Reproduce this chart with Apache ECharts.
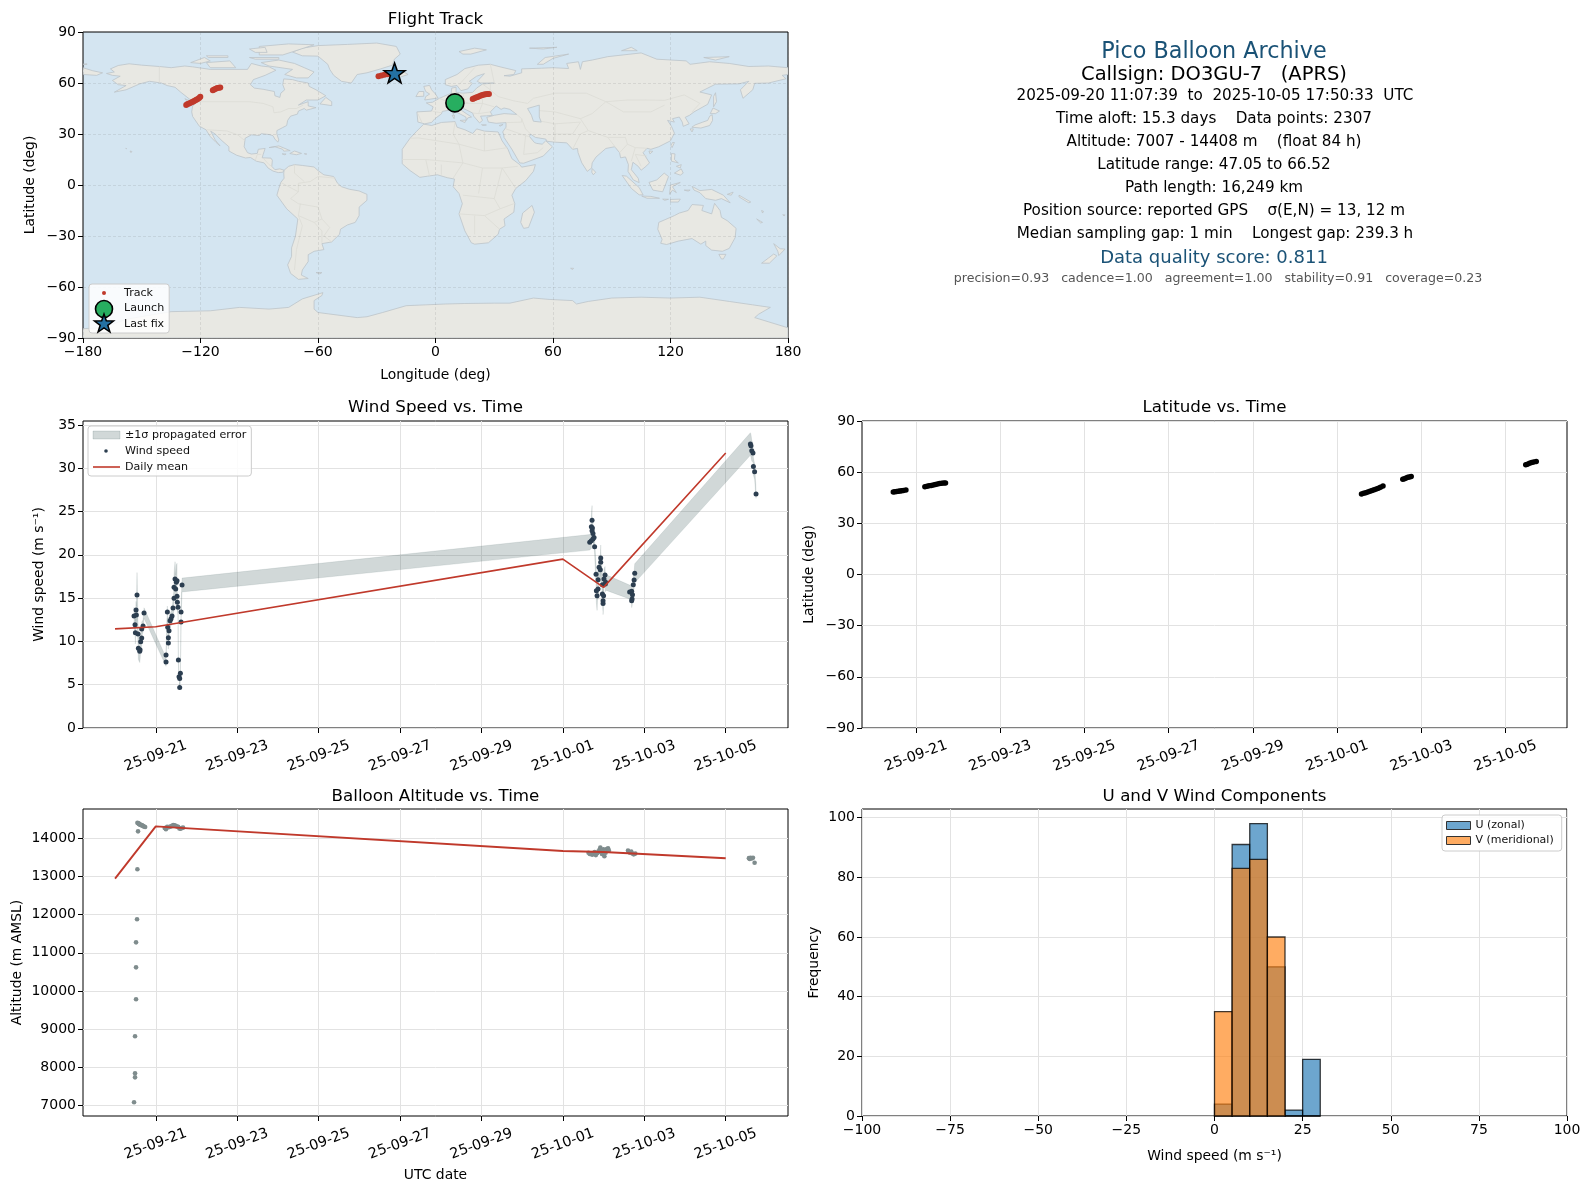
<!DOCTYPE html>
<html><head><meta charset="utf-8">
<style>html,body{margin:0;padding:0;background:#fff}#c{width:1589px;height:1189px}</style>
<script src="https://cdn.jsdelivr.net/npm/echarts@6/dist/echarts.min.js"></script>
</head><body><div id="c"></div>
<script>
const FONT='"DejaVu Sans"';
// ---------- data ----------
const infoLines=[
 ["Pico Balloon Archive",52.5,22.3,"#1a5276",1214],
 ["Callsign: DO3GU-7   (APRS)",74.5,19.5,"#000",1214],
 ["2025-09-20 11:07:39  to  2025-10-05 17:50:33  UTC",96,15.2,"#000",1215],
 ["Time aloft: 15.3 days    Data points: 2307",119,15.2,"#000",1214],
 ["Altitude: 7007 - 14408 m    (float 84 h)",142,15.2,"#000",1214],
 ["Latitude range: 47.05 to 66.52",165,15.2,"#000",1214],
 ["Path length: 16,249 km",188,15.2,"#000",1214],
 ["Position source: reported GPS    σ(E,N) = 13, 12 m",211.5,15.2,"#000",1214],
 ["Median sampling gap: 1 min    Longest gap: 239.3 h",234.5,15.2,"#000",1215],
 ["Data quality score: 0.811",258.5,18,"#1a5276",1214],
 ["precision=0.93   cadence=1.00   agreement=1.00   stability=0.91   coverage=0.23",279,12.6,"#555",1218]
];
const dateTicks=[0,2,4,6,8,10,12,14];
const dateLabels=["25-09-21","25-09-23","25-09-25","25-09-27","25-09-29","25-10-01","25-10-03","25-10-05"];

const trackLon=[10,10.6,11.2,11.8,12.3,12.8,13.2,19,19.8,20.7,21.5,22.3,23.2,24,24.8,25.6,26.5,27.3,-127.3,-126.6,-125.8,-125,-124.2,-123.5,-122.8,-122.1,-121.4,-120.7,-120.1,-113.7,-113,-112.2,-111.4,-110.6,-109.9,-29.1,-27.6,-26.1,-24.6,-23,-20.9];
const trackLat=[48.3,48.5,48.6,48.8,49,49.3,49.6,50.6,51,51.4,51.8,52.2,52.6,53,53.2,53.4,53.5,53.6,47.1,47.6,48,48.4,48.8,49.2,49.7,50.1,50.6,51.2,51.9,55.8,56.2,56.6,57,57.2,57.4,64,64.4,64.8,65.2,65.6,65.9];
const launchPoint=[9.9,48.3];
const lastFixPoint=[-20.9,65.9];

const windT=[-0.534,-0.509,-0.5,-0.484,-0.476,-0.46,-0.435,-0.427,-0.394,-0.386,-0.37,-0.345,-0.345,-0.312,-0.288,
 0.253,0.253,0.285,0.294,0.31,0.31,0.326,0.351,0.375,0.4,0.424,0.449,0.449,0.474,0.49,0.506,0.523,0.523,0.531,0.547,0.556,0.572,0.588,0.588,0.605,0.621,0.621,0.646,
 10.66,10.7,10.7,10.717,10.717,10.725,10.74,10.74,10.766,10.78,10.815,10.823,10.84,10.864,10.864,10.889,10.92,10.93,10.93,10.97,10.97,10.987,10.987,11.0,11.01,11.036,11.044,11.05,
 11.64,11.69,11.69,11.7,11.71,11.73,11.75,11.765,
 14.606,14.62,14.64,14.67,14.68,14.71,14.745];
const windV=[12.93,11.93,11,13.62,13.05,15.35,10.85,9.2,8.85,9.04,9.97,10.39,11.43,11.77,13.28,
 7.62,8.43,13.39,11.62,9.81,10.43,11.24,12.39,12.62,12.93,13.85,14.97,16.24,17.2,16.05,16.82,17.01,15.2,14.51,13.93,7.85,5.92,5.73,4.69,6.31,12.24,13.39,16.51,
 21.44,21.63,23.24,23.98,22.78,23.09,22.47,21.82,22.01,20.94,17.74,15.85,15.28,17.12,16.05,18.55,18.28,19.63,19.13,16.55,15.47,14.7,14.39,15.28,17.2,17.66,16.62,16.82,
 15.7,15.78,14.7,14.89,15.39,16.55,17.09,17.86,
 32.79,32.6,32.02,31.75,30.21,29.6,27.02];
const windSigma=[1,1,1.3,1,1,2.6,1.4,1.3,1.3,1.2,1,0.9,0.8,0.7,0.6,
 0.5,0.5,0.7,0.7,0.7,0.7,0.7,0.8,0.8,0.9,1,1.2,1.6,2,1.6,2,2,1.2,1,0.9,0.5,0.4,0.4,0.3,0.4,0.7,0.8,0.8,
 0.9,0.9,1.2,1.7,1.2,1.2,1,1,1,0.9,1.1,1.4,1.7,1.2,1.2,1.4,1.4,1.5,1.5,1.2,1.2,1.3,1.3,1.2,1.1,1,0.9,0.9,
 0.8,0.8,0.8,0.8,0.8,0.9,1,1.1,
 1.3,1.3,1.2,1.1,1,0.9,0.5];
const meanT=[-1,0,10,11,14];
const windMean=[11.45,11.7,19.5,16.24,31.75];

const latT=[-0.54,-0.5,-0.46,-0.42,-0.38,-0.34,-0.3,-0.24,0.21,0.26,0.31,0.36,0.41,0.46,0.51,0.56,0.61,0.66,0.7,10.58,10.63,10.68,10.73,10.78,10.83,10.88,10.93,10.98,11.03,11.09,11.56,11.6,11.64,11.68,11.72,11.76,14.48,14.52,14.57,14.62,14.67,14.73];
const latV=[48.3,48.5,48.6,48.8,49,49.1,49.3,49.6,51.4,51.7,52,52.2,52.5,52.8,53,53.3,53.5,53.6,53.7,47.2,47.6,48,48.4,48.8,49.2,49.7,50.1,50.6,51.2,51.9,55.8,56.2,56.6,57,57.2,57.4,64.3,64.7,65.2,65.6,65.9,66.3];

const altT=[-0.533,-0.509,-0.509,-0.509,-0.484,-0.484,-0.484,-0.46,-0.451,-0.435,-0.45,-0.43,-0.42,-0.41,-0.4,-0.39,-0.375,-0.36,-0.345,-0.33,-0.31,-0.29,-0.26,
 0.22,0.25,0.28,0.31,0.34,0.37,0.4,0.43,0.46,0.49,0.52,0.55,0.58,0.61,0.64,0.67,
 10.63,10.66,10.69,10.72,10.75,10.78,10.81,10.84,10.87,10.9,10.93,10.96,10.99,11.02,11.05,11.08,11.11,11.13,11.0,10.92,
 11.6,11.62,11.65,11.68,11.71,11.74,11.78,
 14.57,14.59,14.61,14.64,14.67,14.71];
const altV=[7085,7738,7843,8813,9782,10620,11275,11878,13188,14183,14405,14395,14385,14380,14370,14360,14350,14350,14345,14335,14320,14310,14295,
 14270,14240,14300,14290,14300,14310,14330,14350,14340,14330,14310,14300,14260,14250,14270,14280,
 13620,13590,13610,13570,13600,13640,13560,13610,13650,13700,13640,13590,13660,13530,13620,13720,13740,13680,13710,13760,
 13680,13640,13620,13650,13600,13580,13600,
 13480,13460,13490,13470,13490,13360];
const altMean=[12942,14314,13667,13640,13476];

const binEdges=[0,5,10,15,20,25,30];
const uCounts=[4,91,98,50,2,19];
const vCounts=[35,83,86,60,0,0];

// coarse land outlines, [lon,lat]
const northAmerica=[[-168,65.6],[-164,66.5],[-166,68.3],[-162,70.3],[-156.5,71.3],[-150,70.5],[-141,69.7],[-135,69],[-128,70],[-124,69.5],[-115,68],[-108,68],[-96,68],[-94,71.5],[-89,70],[-85,69.5],[-81.5,67.5],[-87,64.5],[-93,62],[-94.5,59],[-92.5,57],[-88,56.3],[-82.3,55],[-82,52.5],[-79.5,51.5],[-79,54],[-77,56],[-78,59],[-77.5,62.4],[-73,62],[-70,61],[-65,60],[-64.5,58],[-61,56],[-56,52.5],[-60,50],[-66,50],[-70,47],[-65,49],[-65,46.5],[-61,45.5],[-66,44],[-67,45],[-70,43.5],[-70.5,41.7],[-74,40.5],[-75.5,38],[-76,35],[-78,33.8],[-81,32],[-81,30],[-80,26.5],[-80.5,25.2],[-82,27],[-83,29],[-85,29.7],[-89,30.2],[-90,29.1],[-94,29.5],[-97.2,27.5],[-97.7,22.5],[-96,19],[-94,18.2],[-91,18.6],[-90.5,21],[-87,21.5],[-88,18],[-88.5,16],[-84,15.8],[-83.3,14.5],[-83.6,11],[-82,9],[-79.5,9.5],[-77.3,8.7],[-78,7.5],[-80.3,7.3],[-83,8.2],[-85.5,10],[-87.5,13],[-91.5,14],[-94.5,16.2],[-97,15.9],[-101.5,17.5],[-105.5,20],[-105.5,22.5],[-109,26],[-112.5,30],[-114.8,31.7],[-112.5,26.5],[-110,23],[-112,25],[-115,28.5],[-117.2,32.5],[-120.6,34.6],[-124,40.3],[-124.5,43],[-124,46.5],[-122.5,48],[-125,50],[-130,54.5],[-133,57.5],[-137,58.5],[-140,60],[-146,61],[-151,59.5],[-153,58.5],[-158,56],[-164,54.6],[-158,58.5],[-162,59],[-165,61.5],[-161,64],[-165,64.5]];
const greenland=[[-73,78.2],[-68,80.5],[-60,82],[-45,82.7],[-30,83.5],[-20,81.5],[-18,77],[-21,74],[-22,70.5],[-28,68.3],[-35,66],[-40,65],[-43,60],[-48,61],[-52,64.5],[-54,68],[-55,71],[-60,75.8],[-68,76]];
const southAmerica=[[-77.3,8.7],[-75,11],[-72,12],[-68,11.5],[-62,10.6],[-60,8.5],[-57,6],[-52,5],[-50,1],[-48,-1],[-44,-2.5],[-39,-3.5],[-35,-5.5],[-35,-9],[-39,-13],[-39,-18],[-41,-22],[-45,-23.5],[-48.5,-26],[-49,-29],[-53,-33.5],[-58,-34.5],[-57,-38],[-62,-39],[-65,-41],[-65,-45],[-68,-50],[-68.5,-53],[-65,-55],[-70,-55.5],[-74,-52],[-75.5,-47],[-73.5,-42],[-73.5,-37],[-71.5,-30],[-70.3,-20],[-76,-14],[-81,-6],[-80,-2],[-79,1.5],[-77.3,4],[-77.5,7]];
const africa=[[-6,35.8],[-2,35],[3,36.8],[10,37.3],[11,34],[15,32.5],[19,30.3],[21,33],[25,31.7],[32,31.2],[32.5,30],[34,26],[37,21],[39,15.5],[43,12],[44,10.5],[51,12],[50,8],[46,2.5],[41,-2],[39,-6],[40.5,-11],[40,-16],[35,-20],[35.5,-24],[32.7,-26],[32,-29],[27,-34],[20,-34.8],[18.3,-34],[15,-27],[12,-17],[13.7,-11],[12,-5],[9,-1],[9.7,3.5],[6,4.3],[1,6],[-4,5.2],[-8,4.5],[-13,8.5],[-17,12.5],[-17,21],[-13,27.5],[-9.7,31.5]];
const eurasia=[[-9,37],[-9.5,43],[-2,43.5],[-1.2,46],[-4.7,48.3],[-1.5,48.7],[2,51],[4,52],[8,54],[8.3,57],[10.5,57.5],[10.5,54.5],[14,54],[19,54.5],[21,57],[24,59.4],[30,60],[23,60],[21.3,61],[25,65.5],[21,64],[17.3,61],[18.8,59.8],[16.5,56.5],[13,55.5],[11,58.5],[8,58],[5,59],[5,62],[11,65],[15,68.5],[22,70.5],[28,71],[33,69.5],[41,67.3],[40,65],[35,64.3],[38,64],[44,66],[44,68.3],[54,68.7],[60,69],[68,68.5],[67,71.5],[73,72.5],[74,68],[75,72.5],[80,73.5],[88,75.5],[105,77.7],[113,74],[128,73],[130,71],[140,72.5],[150,71.5],[160,69.7],[170,70],[180,69],[180,65],[177,64.5],[179,62.5],[170,60],[163,59.8],[162,56],[157,51],[155.7,56],[160,61],[155,59.5],[143,59.3],[135,54.7],[141,53],[139,47.5],[132,43],[129.7,41],[127.5,39.8],[129.5,36],[126.5,34.5],[126,37],[124.5,40],[121,39],[122,37],[118.5,38],[120.5,34.5],[122,30.5],[120,26],[114,22.5],[110,21],[108,21.6],[106,19],[109.3,13],[107,10.5],[105,8.7],[103.5,11],[100.8,13.4],[100,9],[103.5,4],[104,1.4],[101,3],[98.3,8],[98.5,12],[97,16.5],[94.5,16],[94,19],[91.5,22.5],[87,21.5],[82,16.5],[80,13],[79.7,10],[77.5,8],[74.7,13],[72.8,19],[72.5,21.5],[70,21],[67,24.8],[61,25.2],[57,25.7],[56.3,27],[51,28],[48.5,30],[48,28.5],[50.5,25],[51.5,24.5],[54.5,24],[56.3,26],[59.7,22.5],[55,17],[45,12.8],[43,13],[39,21],[35,28],[34.9,29.5],[34.3,31.2],[36,34],[36,36.7],[31,36.3],[27,37],[26.2,39.8],[30,41],[35,42],[41.5,41.5],[38,44.5],[35,45.3],[33.5,44.5],[31,46.5],[28,43],[29,41],[26,40.7],[23,40.5],[24,38],[22.5,36.5],[19.5,40.5],[19,42.3],[13.5,45.5],[12.5,44.5],[16,41.8],[18.4,40],[16.5,39.5],[15.8,38],[15.5,40],[10.5,43],[8.7,44.4],[3.5,43.3],[3,41.8],[-0.3,39],[-2,36.8],[-5.5,36]];
const chukotka=[[-180,65],[-173,64.5],[-170,66],[-175,67.2],[-180,69]];
const antarctica=[[-180,-84.5],[-170,-84],[-158,-79],[-148,-77],[-135,-74.5],[-115,-74],[-100,-72],[-85,-73],[-75,-72],[-68,-67],[-57.5,-63.3],[-58,-65],[-62,-68],[-62,-73],[-60,-75],[-40,-78],[-35,-77.5],[-27,-75],[-15,-71],[-5,-70.5],[5,-70],[15,-69.7],[30,-69.5],[38,-69.5],[50,-66.5],[58,-67.3],[70,-68],[72,-70],[78,-68.5],[90,-66.5],[105,-66],[120,-66.5],[135,-66],[150,-68.5],[162,-70.5],[171,-72],[165,-76],[163,-78],[180,-84],[180,-90],[-180,-90]];
const australia=[[114,-22],[113.5,-26],[115.7,-32],[115,-34.3],[118,-35],[124,-33],[131,-31.5],[135.5,-34.8],[138,-33],[138,-35.6],[141,-38.3],[146.5,-39],[150,-37.3],[153,-31],[153.5,-25.5],[149,-21],[146,-19],[145.3,-15],[142.5,-10.8],[141,-17],[136,-15],[136.8,-12],[131,-11.5],[129,-15],[124.5,-16.5],[122,-18]];
const islands=[
 [[-80,73.5],[-72,71.5],[-67,69],[-62,66.5],[-65,63],[-71,63],[-77,65],[-73,68],[-85,70],[-89,72]],
 [[-117,72],[-105,73],[-102,69],[-115,69]],[[-125,72],[-118,75],[-115,73],[-120,71.5]],
 [[-90,76.5],[-78,76.5],[-62,82.5],[-75,83],[-90,81.5]],[[-95,75],[-80,75],[-80,74],[-92,74]],
 [[-117,76],[-106,76],[-106,75],[-116,75]],[[-95,80],[-87,81],[-86,78],[-92,78]],
 [[-59,47.7],[-53,46.7],[-53,49],[-56,51.5]],[[-128,50.7],[-124,49],[-125.5,48.5]],
 [[-85,22],[-80,23],[-74.2,20.2],[-77.5,19.9],[-78,21],[-82,22.5]],[[-74.4,18.5],[-72,20],[-68.4,18.6],[-71,17.8]],
 [[-78.3,18.3],[-76.3,18.2],[-77,17.8]],[[-67,18.4],[-65.7,18.3],[-66,18]],[[-156,20],[-155,19.7],[-155.5,19]],[[-158.2,21.6],[-157.7,21.4],[-158,21.3]],
 [[-24,65.5],[-22,66.4],[-16,66.4],[-14,65],[-18,63.5],[-22,64]],
 [[-5.5,50],[1.3,51.2],[0,53.5],[-2,56],[-3,58.6],[-6,58],[-5,55],[-3,53.5],[-5,52]],[[-10,52],[-6,52.2],[-6,55],[-8.5,55]],
 [[130.9,34],[135.5,33.5],[140,35],[141.5,38],[141.3,41.3],[140,40.5],[139,38],[136.5,37],[132.5,35.3]],[[130,33],[131.7,33],[131,31.2]],[[140.3,42],[141.7,45.3],[145,43.5],[143,42]],
 [[142,46],[143.5,49],[143,54.3],[142,52]],[[121,25],[122,25],[120.8,22],[120.2,23]],[[109,20],[111,19.8],[109.5,18.3]],
 [[80,9.7],[81.8,7.5],[80.6,6],[79.8,7.5]],[[95.3,5.6],[97.5,5.2],[104,-1.5],[106,-5.8],[104,-5.8],[100,-2]],[[105.3,-6.5],[110,-6.7],[114.4,-7.8],[108,-7.8]],
 [[109,1.5],[113,3],[116.8,7],[119,5],[117.7,1],[116,-4],[111,-3]],[[119.5,-5.5],[120,0],[125,1.5],[121,-1],[123,-4.5],[121,-3]],
 [[120.5,18.5],[122.3,18.3],[122,15],[124,13],[120.5,14]],[[122,7],[125.5,9.5],[126.5,7],[125,5.8]],[[123,11],[125.5,12],[125,10]],
 [[131,-0.8],[135,-3.3],[141,-2.6],[147,-6],[150.5,-10.5],[146,-8],[143,-9],[138,-8],[135,-4.5],[132,-3]],
 [[116,-8.3],[119,-8.4],[117,-9]],[[120,-8.5],[125,-8.3],[124,-10],[120,-10]],[[127,-3],[130,-3],[129,-3.6]],[[149,-5.5],[152,-4.2],[151,-6]],
 [[155,-6],[161,-10],[160,-10.5],[155,-7]],[[166.5,-15],[167.5,-15.5],[167,-16.5]],[[164,-20],[167,-22],[166,-22.3]],[[177.3,-17.5],[178.5,-17.6],[178,-18.2]],
 [[144.7,-40.8],[148.3,-40.8],[147,-43.5],[146,-43.5]],[[172.7,-34.5],[176,-37.5],[178.5,-37.7],[175.3,-41.5],[174.8,-39]],[[172.7,-40.6],[174.3,-41.7],[170.5,-46],[166.5,-46],[170,-43]],
 [[52,71],[56,75],[68,77],[60,74.5],[55,71]],[[12,78.5],[20,80.5],[26,79.5],[18,77],[14,77]],[[95,79],[103,79],[100,81]],[[137,75],[150,75.5],[143,73.5]],[[48,80.5],[62,81],[55,80]],
 [[-180,71],[-178,71.3],[-178,70.9]],[[69,-49],[70.5,-49],[70,-49.7]],[[-61,-51.5],[-58,-51.5],[-59,-52.3]],[[8.5,41],[9.7,41],[9.5,39]],[[8.7,43],[9.5,43],[9.2,41.5]],[[12.5,38],[15.5,38.2],[15,36.7]],[[23.5,35.5],[26,35.3],[24,35]],[[32.5,35],[34.5,35.6],[33,34.6]],
 [[49.3,-12],[50.5,-16],[47.5,-25],[45,-25.5],[43.5,-22],[44.5,-16.5]]
];
const landShapes=[northAmerica,greenland,southAmerica,africa,eurasia,chukotka,antarctica,australia].concat(islands);
const caspianSea=[[47,45],[53,47],[53,40],[54,37],[50,37.5],[49,41]];
const borders=[
 [[-123,49],[-95,49],[-88,48],[-83,46],[-82.5,42.5],[-79,43],[-75,45],[-71,45],[-67.5,47]],[[-141,69.7],[-141,60]],[[-117,32.5],[-106.5,31.8],[-101,29.5],[-97.3,26]],[[-92,14.5],[-91,18],[-89,18]],[[-88,15.8],[-85,12],[-83.6,11]],
 [[-51,4],[-60,5],[-64,2],[-70,1],[-70,-4],[-74,-8],[-70,-11],[-60,-13],[-58,-20],[-54,-25],[-57,-30],[-53,-33.5]],[[-70,-18],[-68,-24],[-71,-38],[-72,-50]],[[-72,12],[-72,7],[-67,2]],[[-79,1.5],[-75,-1],[-70,-4]],[[-69,-11],[-70,-18],[-62,-22],[-58,-20]],[[-62,-22],[-58,-27],[-58,-34]],
 [[-8.7,27.7],[12,24],[25,20],[25,31.5]],[[25,20],[36.9,22]],[[12,24],[14,13],[24,10],[34,10],[42,11]],[[9,4],[14,13]],[[-17,15],[-5,15],[14,13]],[[30,-8],[14,-6]],[[12,-17],[25,-18],[33,-14],[40,-11]],[[20,-29],[20,-18]],[[34,10],[30,-8]],[[34,10],[41,-2]],[[30,-8],[33,-14]],[[25,-18],[32.7,-26]],[[-8.7,27.7],[-13,27.5]],[[-5,15],[-3,5]],[[3,6],[3,12]],[[24,10],[22,-5]],[[10,37],[9,30],[12,24]],
 [[28,60],[28,56],[32,52],[40,49.5],[47,48],[50,51],[61,54],[77,54],[87,49],[98,50],[107,50],[117,49.8],[127,53],[135,48],[131,43]],[[87,49],[80,42],[74,39],[78,32],[88,28],[97,28],[98,24],[102,22],[108,21.6]],[[87,49],[96,43],[110,43],[117,47]],[[44,39],[46,33],[48.5,30]],[[61,25],[61,36],[54,37.5]],[[61,36],[74,37]],[[61,30],[70,30],[74,37]],[[70,21],[74,30],[78,32]],[[88,28],[92,22]],[[98,24],[94,19]],[[102,22],[100,14]],[[105,11],[102,18],[108,17]],[[36,36.7],[44,37],[44,39],[41.5,41.5]],[[36,33],[46,29],[48,28.5]],[[46,29],[45,18],[52,19],[55,22]],[[54,37.5],[50,44],[61,43],[74,39]],
 [[2,51],[8,48],[7,44]],[[14,54],[15,49],[17,48],[24,48],[30,46]],[[8,54],[7,50],[8,48],[17,48]],[[-1.5,43.3],[3,42.5]],[[-9,42],[-7,37]],[[24,59.4],[28,56],[24,51],[24,48]],[[28,71],[30,60]],[[12,59],[20,69]],[[22,42],[28,43]],[[24,48],[22,42],[19,42.3]]
];

// ---------- chart ----------
const G={map:{left:83,top:32,width:705,height:306},wind:{left:83,top:421,width:705,height:307},lat:{left:862,top:421,width:705,height:307},alt:{left:83,top:809,width:705,height:307},hist:{left:862,top:809,width:705,height:307}};
const base={fontFamily:FONT,color:'#000'};
const gridLine={show:true,lineStyle:{color:'#e2e2e2',width:1}};
const plainNumber=v=>String(v).replace('-','\u2212');
function grid(g,extra){return Object.assign({containLabel:false,show:true,borderColor:'#000',borderWidth:1,backgroundColor:'transparent'},g,extra||{});}
function axisBase(o){return Object.assign({axisLine:{show:false,onZero:false},axisTick:{show:true,length:5,lineStyle:{color:'#000',width:1}},axisLabel:{...base,fontSize:14,margin:7,formatter:plainNumber},nameTextStyle:{...base,fontSize:13.9},nameLocation:'middle',splitLine:gridLine},o);}
function dateAxis(idx,min,max,name){
 return axisBase({gridIndex:idx,type:'value',min,max,name:name||'',nameGap:52,
  axisTick:{show:true,length:5,lineStyle:{color:'#000',width:1},customValues:dateTicks},
  axisLabel:{...base,fontSize:14.4,rotate:20,align:'center',verticalAlign:'middle',margin:28,customValues:dateTicks,
   formatter:v=>dateLabels[dateTicks.indexOf(v)]}});
}
function customY(ticks,o){return axisBase(Object.assign({type:'value',axisTick:{show:true,length:5,lineStyle:{color:'#000',width:1},customValues:ticks},
  axisLabel:{...base,fontSize:14,margin:7,customValues:ticks,formatter:plainNumber}},o));}
const pairs=(a,b)=>a.map((v,i)=>[v,b[i]]);
function title(t,g,y){return {text:t,left:g.left+g.width/2,top:y,textAlign:'center',padding:0,textStyle:{...base,fontSize:16.7,fontWeight:'normal'}};}

function polyRender(list,style){return (params,api)=>({type:'polygon',shape:{points:list[api.value(0)].map(p=>api.coord(p))},style:style,silent:true});}
function histRender(counts,fill){return (params,api)=>{
  const i=api.value(0);
  const a=api.coord([binEdges[i],counts[i]]),b=api.coord([binEdges[i+1],0]);
  return {type:'rect',shape:{x:a[0],y:a[1],width:b[0]-a[0],height:b[1]-a[1]},style:{fill:fill,stroke:'rgba(0,0,0,0.75)',lineWidth:1.3}};
};}
const bandPolygon=(params,api)=>{
  if(params.dataIndex!==0)return null;
  const up=windT.map((t,i)=>api.coord([t,windV[i]+windSigma[i]]));
  const lo=windT.map((t,i)=>api.coord([t,windV[i]-windSigma[i]])).reverse();
  return {type:'polygon',shape:{points:up.concat(lo)},style:{fill:'rgba(47,79,79,0.22)',stroke:'rgba(47,79,79,0.12)',lineWidth:0.8},silent:true};
};

const legendCommon={orient:'vertical',selectedMode:false,backgroundColor:'rgba(255,255,255,0.85)',borderColor:'#ccc',borderWidth:1,borderRadius:3,
  textStyle:{...base,color:'#111',fontSize:11.1}};
const hiddenIcon={icon:'rect',itemStyle:{opacity:0,borderWidth:0},lineStyle:{opacity:0}};
const mapGridStyle={show:true,lineStyle:{color:'rgba(110,110,110,0.22)',width:0.7,type:[3,2]}};

const option={
 animation:false,backgroundColor:'#fff',textStyle:{fontFamily:FONT},
 title:[title('Flight Track',G.map,11),title('Wind Speed vs. Time',G.wind,399),title('Latitude vs. Time',G.lat,399),title('Balloon Altitude vs. Time',G.alt,788),title('U and V Wind Components',G.hist,788)],
 grid:[grid(G.map,{backgroundColor:'#d4e5f1'}),grid(G.wind),grid(G.lat),grid(G.alt),grid(G.hist)],
 xAxis:[
  axisBase({gridIndex:0,type:'value',min:-180,max:180,interval:60,name:'Longitude (deg)',nameGap:30,z:3,splitLine:mapGridStyle}),
  dateAxis(1,-1.787,15.53),
  dateAxis(2,-1.283,15.46),
  dateAxis(3,-1.787,15.53,'UTC date'),
  axisBase({gridIndex:4,type:'value',min:-100,max:100,interval:25,name:'Wind speed (m s⁻¹)',nameGap:33})
 ],
 yAxis:[
  axisBase({gridIndex:0,type:'value',min:-90,max:90,interval:30,name:'Latitude (deg)',nameGap:46,z:3,splitLine:mapGridStyle}),
  customY([0,5,10,15,20,25,30,35],{gridIndex:1,min:0,max:35.45,name:'Wind speed (m s⁻¹)',nameGap:37}),
  axisBase({gridIndex:2,type:'value',min:-90,max:90,interval:30,name:'Latitude (deg)',nameGap:46}),
  customY([7000,8000,9000,10000,11000,12000,13000,14000],{gridIndex:3,min:6725,max:14768,name:'Altitude (m AMSL)',nameGap:59}),
  customY([0,20,40,60,80,100],{gridIndex:4,min:0,max:102.9,name:'Frequency',nameGap:41})
 ],
 legend:[
  Object.assign({},legendCommon,hiddenIcon,{left:89,top:284,padding:[2,5,2,5],itemWidth:25,itemHeight:14,itemGap:1.5,data:['Track','Launch','Last fix']}),
  Object.assign({},legendCommon,hiddenIcon,{left:88,top:426,padding:[2,5,2,5],itemWidth:27,itemHeight:14,itemGap:2,data:['±1σ propagated error','Wind speed','Daily mean']}),
  Object.assign({},legendCommon,{left:1442,top:815,padding:[5,8,5,4],itemWidth:24,itemHeight:8,itemGap:4,textStyle:{...base,color:'#111',fontSize:11},
    data:[{name:'U (zonal)',icon:'rect',itemStyle:{color:'rgba(31,119,180,0.65)',borderColor:'#333',borderWidth:1}},{name:'V (meridional)',icon:'rect',itemStyle:{color:'rgba(255,127,14,0.65)',borderColor:'#333',borderWidth:1}}]})
 ],
 series:[
  {type:'custom',name:'Land',xAxisIndex:0,yAxisIndex:0,z:1,clip:true,silent:true,data:landShapes.map((_,i)=>[i]),encode:{x:-1,y:-1},
   renderItem:polyRender(landShapes,{fill:'#e8e8e3',stroke:'#bcc4c9',lineWidth:0.8})},
  {type:'custom',name:'Borders',xAxisIndex:0,yAxisIndex:0,z:1,clip:true,silent:true,data:borders.map((_,i)=>[i]),encode:{x:-1,y:-1},
   renderItem:(params,api)=>({type:'polyline',shape:{points:borders[api.value(0)].map(p=>api.coord(p))},style:{fill:'none',stroke:'#dcdcd6',lineWidth:0.8},silent:true})},
  {type:'custom',name:'Caspian',xAxisIndex:0,yAxisIndex:0,z:1,clip:true,silent:true,data:[[0]],encode:{x:-1,y:-1},
   renderItem:polyRender([caspianSea],{fill:'#d4e5f1',stroke:'#bcc4c9',lineWidth:0.8})},
  {type:'scatter',name:'Track',xAxisIndex:0,yAxisIndex:0,z:5,symbolSize:6,itemStyle:{color:'#c0392b',opacity:1},data:pairs(trackLon,trackLat)},
  {type:'scatter',name:'Launch',xAxisIndex:0,yAxisIndex:0,z:6,symbolSize:18,itemStyle:{color:'#27ae60',borderColor:'#000',borderWidth:1.6,opacity:1},data:[launchPoint]},
  {type:'scatter',name:'Last fix',xAxisIndex:0,yAxisIndex:0,z:7,symbol:'path://M0,-10L2.35,-3.24L9.51,-3.09L3.8,1.24L5.88,8.09L0,4L-5.88,8.09L-3.8,1.24L-9.51,-3.09L-2.35,-3.24Z',symbolSize:[21,20],itemStyle:{color:'#2471a3',borderColor:'#000',borderWidth:1.5,opacity:1},data:[lastFixPoint]},

  {type:'custom',name:'±1σ propagated error',xAxisIndex:1,yAxisIndex:1,z:2,data:pairs(windT,windV),encode:{x:0,y:1},renderItem:bandPolygon},
  {type:'scatter',name:'Wind speed',xAxisIndex:1,yAxisIndex:1,z:3,symbolSize:5,itemStyle:{color:'#2c3e50',opacity:1},data:pairs(windT,windV)},
  {type:'line',name:'Daily mean',xAxisIndex:1,yAxisIndex:1,z:4,showSymbol:false,symbol:'none',lineStyle:{color:'#c0392b',width:1.6},data:pairs(meanT,windMean)},

  {type:'scatter',name:'Latitude',xAxisIndex:2,yAxisIndex:2,symbolSize:5.5,itemStyle:{color:'#000',opacity:1},data:pairs(latT,latV)},

  {type:'scatter',name:'Altitude',xAxisIndex:3,yAxisIndex:3,z:3,symbolSize:4.6,itemStyle:{color:'#7f8c8d',opacity:1},data:pairs(altT,altV)},
  {type:'line',name:'Altitude daily mean',xAxisIndex:3,yAxisIndex:3,z:4,symbol:'none',lineStyle:{color:'#c0392b',width:1.9},data:pairs(meanT,altMean)},

  {type:'custom',name:'U (zonal)',xAxisIndex:4,yAxisIndex:4,z:3,data:uCounts.map((_,i)=>[i]),encode:{x:-1,y:-1},renderItem:histRender(uCounts,'rgba(31,119,180,0.65)')},
  {type:'custom',name:'V (meridional)',xAxisIndex:4,yAxisIndex:4,z:4,data:vCounts.map((_,i)=>[i]),encode:{x:-1,y:-1},renderItem:histRender(vCounts,'rgba(255,127,14,0.65)')}
 ],
 graphic:{elements:[
   {type:'group',silent:true,children:infoLines.map(l=>({type:'text',x:l[4],y:l[1],style:{text:l[0],font:l[2]+'px '+FONT,fill:l[3],textAlign:'center',textVerticalAlign:'middle'}}))},
   {type:'circle',z:100,silent:true,shape:{cx:104,cy:293,r:2},style:{fill:'#c0392b'}},
   {type:'circle',z:100,silent:true,shape:{cx:104,cy:309,r:8.5},style:{fill:'#27ae60',stroke:'#000',lineWidth:1.6}},
   {type:'polygon',z:101,silent:true,shape:{points:[[104,314],[106.3,320.8],[113.5,321],[107.8,325.3],[109.9,332],[104,328],[98.1,332],[100.2,325.3],[94.5,321],[101.7,320.8]]},style:{fill:'#2471a3',stroke:'#000',lineWidth:1.5}},
   {type:'rect',z:100,silent:true,shape:{x:93,y:431,width:27,height:8},style:{fill:'rgba(47,79,79,0.22)',stroke:'rgba(47,79,79,0.15)'}},
   {type:'circle',z:100,silent:true,shape:{cx:106,cy:451,r:1.8},style:{fill:'#2c3e50'}},
   {type:'line',z:100,silent:true,shape:{x1:93,y1:467,x2:120,y2:467},style:{stroke:'#c0392b',lineWidth:1.6}}
 ]}
};
const chart=echarts.init(document.getElementById('c'),null,{renderer:'canvas'});
chart.setOption(option);
</script></body></html>
